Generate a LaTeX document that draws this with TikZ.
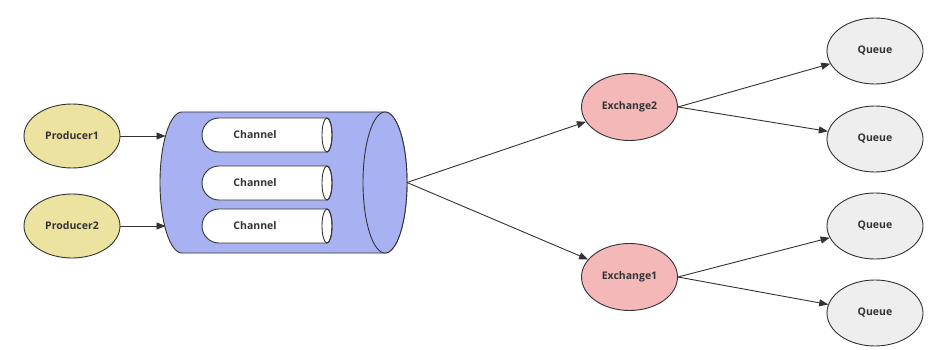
\documentclass[tikz,border=0pt]{standalone}
\usepackage{fontspec}
\setmainfont{Open Sans}
\usetikzlibrary{arrows.meta,shapes.geometric}
\definecolor{prodfill}{HTML}{EDE3A0}
\definecolor{exfill}{HTML}{F4B8B8}
\definecolor{cylfill}{HTML}{A8B2F2}
\definecolor{qfill}{HTML}{EEEEEE}
\definecolor{linec}{HTML}{333333}
\begin{document}
\begin{tikzpicture}[x=1pt,y=-1pt,
  oval/.style={ellipse,draw=linec,line width=0.9pt,minimum width=96pt,minimum height=64pt,inner sep=0pt,
    font=\bfseries\fontsize{10.5}{12}\selectfont,text=linec},
  prod/.style={oval,fill=prodfill},
  exch/.style={oval,fill=exfill,minimum height=67pt},
  queue/.style={oval,fill=qfill,minimum height=66pt},
  lbl/.style={font=\bfseries\fontsize{10.5}{12}\selectfont,text=linec,inner sep=0pt},
  shp/.style={draw=linec,line width=0.9pt},
  conn/.style={draw=linec,line width=0.9pt,-{Triangle[length=9pt,width=7pt]}}]
\useasboundingbox (0,0) rectangle (945,350);
\fill[white] (0,0) rectangle (945,350);

% producers
\node[prod] (p1) at (72,136) {Producer1};
\node[prod] (p2) at (72,226) {Producer2};

% connection cylinder
\filldraw[shp,fill=cylfill] (182,112) -- (385,112) arc(-90:90:22 and 70.5) -- (182,253) arc(90:270:22 and 70.5) -- cycle;
\filldraw[shp,fill=cylfill] (385,182.5) ellipse (22 and 70.5);
\coordinate (in1) at (165.5,136);
\coordinate (in2) at (165.5,226);
\coordinate (cylR) at (407,182.5);

% channels
\foreach \cy/\nm in {135/ch1,183/ch2,226/ch3}{
  \filldraw[shp,fill=white] (327,\cy-17) -- (219,\cy-17) arc(270:90:17) -- (327,\cy+17) arc(90:-90:5 and 17) -- cycle;
  \draw[shp] (327,\cy) ellipse (5 and 17);
  \node[lbl] (\nm) at (255,\cy) {Channel};
}

% exchanges
\node[exch] (e2) at (629.5,107) {Exchange2};
\node[exch] (e1) at (629.5,277) {Exchange1};

% queues
\node[queue] (q1) at (875,51) {Queue};
\node[queue] (q2) at (875,139) {Queue};
\node[queue] (q3) at (875,226) {Queue};
\node[queue] (q4) at (875,313) {Queue};

% connectors
\draw[conn] (p1) -- (in1);
\draw[conn] (p2) -- (in2);
\draw[conn] (cylR) -- (e2);
\draw[conn] (cylR) -- (e1);
\draw[conn] (e2.east) -- (q1);
\draw[conn] (e2.east) -- (q2);
\draw[conn] (e1.east) -- (q3);
\draw[conn] (e1.east) -- (q4);
\end{tikzpicture}
\end{document}
